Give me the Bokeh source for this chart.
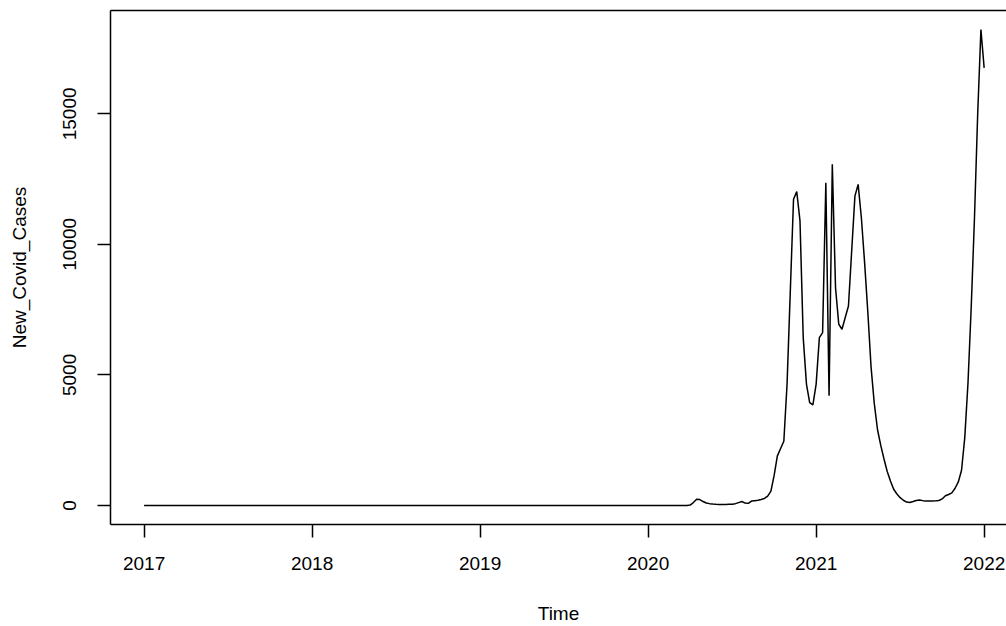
import numpy as np
from bokeh.plotting import figure
from bokeh.models import LinearAxis, FixedTicker, Range1d
from bokeh.embed import file_html
from bokeh.resources import INLINE

# ---- data (weekly series, frequency 52, starting 2017) ----
start_year = 2017
frequency = 52
leading_zero_weeks = 169          # weeks with no cases (2017 .. early 2020)
active_cases = [                  # weeks 169 .. 260
    15, 110, 240, 225, 150, 95, 70, 55, 45, 40, 40, 40, 45, 50, 70, 110,
    150, 90, 80, 170, 185, 200, 230, 270, 360, 550, 1150, 1900, 2180, 2460,
    4650, 8200, 11730, 12020, 10900, 6430, 4650, 3940, 3850, 4650, 6430, 6620,
    12360, 4200, 13070, 8340, 6940, 6750, 7200, 7640, 9750, 11850, 12300, 11020,
    9300, 7400, 5300, 3900, 2900, 2300, 1780, 1300, 940, 620, 440, 300,
    200, 130, 115, 150, 190, 210, 185, 175, 175, 175, 180, 190,
    250, 370, 420, 480, 660, 900, 1350, 2600, 4700, 7600, 11000, 15000,
    18230, 16760,
]
x_ticks = [2017, 2018, 2019, 2020, 2021, 2022]
y_ticks = [0, 5000, 10000, 15000]

cases = [0] * leading_zero_weeks + active_cases
time = [start_year + i / frequency for i in range(len(cases))]

FONT = "Liberation Sans"
FS = "19px"

xmin, xmax = min(time), max(time)
ymax = max(cases)
pad_x = 0.04 * (xmax - xmin)
pad_y = 0.04 * ymax
# frame is cut at the window's right edge (R's box extends beyond it)
x_end = 2022.133

p = figure(width=1006, height=626, output_backend="svg", toolbar_location=None,
           x_range=Range1d(xmin - pad_x, x_end),
           y_range=Range1d(-pad_y, ymax + pad_y),
           x_axis_type=None, y_axis_type=None,
           min_border_left=110, min_border_right=0, min_border_top=10, min_border_bottom=102)
p.outline_line_color = None
p.background_fill_color = "white"
p.border_fill_color = "white"


def style(ax):
    ax.axis_line_color = "black"
    ax.axis_line_width = 1.5
    ax.major_tick_line_color = "black"
    ax.major_tick_line_width = 1.5
    ax.major_tick_in = 0
    ax.major_tick_out = 13
    ax.minor_tick_in = 0
    ax.minor_tick_out = 0
    ax.major_label_text_font = FONT
    ax.major_label_text_font_size = FS
    ax.major_label_text_color = "black"
    ax.axis_label_text_font = FONT
    ax.axis_label_text_font_size = FS
    ax.axis_label_text_font_style = "normal"
    ax.axis_label_text_color = "black"


xaxis = LinearAxis(ticker=FixedTicker(ticks=x_ticks), axis_label="Time")
style(xaxis)
xaxis.major_label_standoff = 19
xaxis.axis_label_standoff = 30
p.add_layout(xaxis, "below")

yaxis = LinearAxis(ticker=FixedTicker(ticks=y_ticks), axis_label="New_Covid_Cases")
style(yaxis)
yaxis.major_label_orientation = "parallel"
yaxis.major_label_standoff = 21
yaxis.axis_label_standoff = 31
p.add_layout(yaxis, "left")

top = LinearAxis(ticker=FixedTicker(ticks=[]))
style(top)
top.major_tick_out = 0
top.major_label_standoff = 0
top.major_label_text_font_size = "0px"
p.add_layout(top, "above")

p.line(time, cases, line_color="black", line_width=1.5)

open("out.html", "w").write(file_html(p, INLINE))
